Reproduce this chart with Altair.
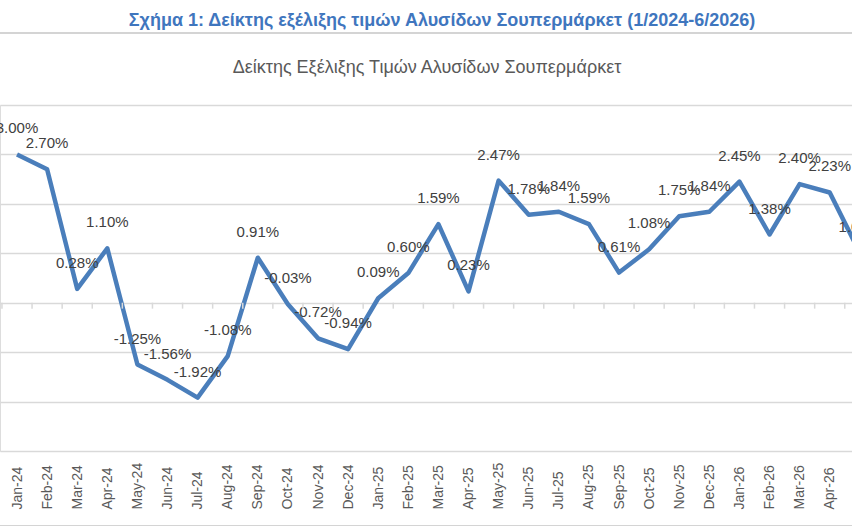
import altair as alt
import pandas as pd

# Monthly supermarket price index change (%), Jan-24 onwards
months = [
    "Jan-24", "Feb-24", "Mar-24", "Apr-24", "May-24", "Jun-24", "Jul-24",
    "Aug-24", "Sep-24", "Oct-24", "Nov-24", "Dec-24",
    "Jan-25", "Feb-25", "Mar-25", "Apr-25", "May-25", "Jun-25", "Jul-25",
    "Aug-25", "Sep-25", "Oct-25", "Nov-25", "Dec-25",
    "Jan-26", "Feb-26", "Mar-26", "Apr-26", "May-26",
]
index_values = [
    3.00, 2.70, 0.28, 1.10, -1.25, -1.56, -1.92,
    -1.08, 0.91, -0.03, -0.72, -0.94,
    0.09, 0.60, 1.59, 0.23, 2.47, 1.78, 1.84,
    1.59, 0.61, 1.08, 1.75, 1.84,
    2.45, 1.38, 2.40, 2.23, 1.01,
]
grid_levels = [-3, -2, -1, 0, 1, 2, 3, 4]

main_title = "Σχήμα 1: Δείκτης εξέλιξης τιμών Αλυσίδων Σουπερμάρκετ (1/2024-6/2026)"
chart_heading = "Δείκτης Εξέλιξης Τιμών Αλυσίδων Σουπερμάρκετ"

FONT = "Liberation Sans"
W, H = 852, 346

df = pd.DataFrame({
    "idx": list(range(len(months))),
    "month": months,
    "value": index_values,
    "label": [f"{v:.2f}%" for v in index_values],
})
# category boundaries for the small ticks on the zero line
tick_df = pd.DataFrame({"idx": [i - 0.5 for i in range(len(months))]})
one_row = pd.DataFrame({"t": [chart_heading]})

x_scale = alt.Scale(domain=[-0.565, 27.74], nice=False, zero=False)
y_scale = alt.Scale(domain=[min(grid_levels), max(grid_levels)], nice=False, zero=False)

label_expr = "[" + ",".join(f"'{m}'" for m in months) + "][datum.value]"

x_axis = alt.Axis(
    values=list(range(len(months) - 1)),
    labelExpr=label_expr,
    labelAngle=-90,
    labelAlign="left",
    labelBaseline="middle",
    labelPadding=58,
    labelFont=FONT,
    labelFontSize=14,
    labelColor="#595959",
    labelOverlap=False,
    labelSeparation=0,
    labelFlush=False,
    labelBound=False,
    ticks=False,
    domain=False,
    grid=False,
    title=None,
)
y_axis = alt.Axis(
    values=grid_levels,
    labels=False,
    ticks=False,
    domain=False,
    grid=True,
    gridColor="#D9D9D9",
    gridWidth=1.5,
    title=None,
)

X = alt.X("idx:Q", scale=x_scale, axis=x_axis)
Y = alt.Y("value:Q", scale=y_scale, axis=y_axis)

base = alt.Chart(df)

line = base.mark_line(
    color="#4A7EBB", strokeWidth=4.5, strokeJoin="round", clip=True
).encode(x=X, y=Y)

labels = base.mark_text(
    dy=-26, fontSize=15, font=FONT, color="#404040", clip=True
).encode(x=X, y=Y, text="label:N")

zero_ticks = alt.Chart(tick_df).mark_rule(
    color="#D9D9D9", strokeWidth=1.5, clip=True
).encode(
    x=X,
    y=alt.YDatum(0, scale=y_scale, axis=y_axis),
    y2=alt.datum(-0.12),
)

heading = alt.Chart(one_row).mark_text(
    align="center", baseline="middle", fontSize=18, font=FONT, color="#595959"
).encode(
    x=alt.value(427),
    y=alt.value(-37),
    text="t:N",
)

top_rule = alt.Chart(one_row).mark_rule(color="#D4D4D4", strokeWidth=2).encode(
    x=alt.value(0), x2=alt.value(W), y=alt.value(-72)
)
bottom_rule = alt.Chart(one_row).mark_rule(color="#D4D4D4", strokeWidth=2).encode(
    x=alt.value(0), x2=alt.value(W), y=alt.value(421)
)

chart = (
    alt.layer(line, labels, zero_ticks, top_rule, bottom_rule, heading)
    .properties(
        width=W,
        height=H,
        autosize=alt.AutoSizeParams(type="none"),
        padding={"left": 0, "right": 0, "top": 105, "bottom": 75},
        title=alt.TitleParams(
            text=main_title,
            color="#3F76BE",
            font=FONT,
            fontSize=18,
            fontWeight="bold",
            anchor="middle",
            frame="group",
            dx=16,
            offset=-16,
            baseline="bottom",
        ),
    )
    .configure_view(stroke=None)
    .configure_axisX(labelOverlap=False, labelSeparation=0)
    .configure(background="white")
)

chart.save("out.html", embed_options={"renderer": "svg", "actions": False})
